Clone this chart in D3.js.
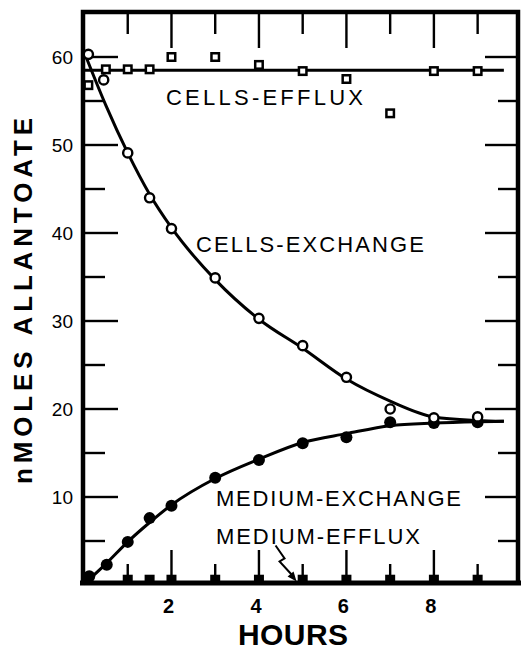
<!DOCTYPE html>
<html>
<head>
<meta charset="utf-8">
<script src="https://cdn.jsdelivr.net/npm/d3@7"></script>
<style>
  html, body { margin: 0; padding: 0; background: #fff; }
  svg { display: block; }
  text { font-family: "Liberation Sans", Arial, sans-serif; fill: #000; }
</style>
</head>
<body>
<div id="chart"></div>
<script>
// Allantoate in cells and medium over time (nmoles)
const xTicks = [2, 4, 6, 8];
const yTicks = [10, 20, 30, 40, 50, 60];
const yMinorTicks = [5, 10, 15, 20, 25, 30, 35, 40, 45, 50, 55, 60];
const xMinorTicks = [1, 2, 3, 4, 5, 6, 7, 8, 9];

// Cells, efflux (open squares)
const cellsEffluxHours = [0.1, 0.5, 1, 1.5, 2, 3, 4, 5, 6, 7, 8, 9];
const cellsEffluxValues = [56.8, 58.6, 58.6, 58.6, 60.0, 60.0, 59.1, 58.4, 57.5, 53.6, 58.4, 58.4];

// Cells, exchange (open circles)
const cellsExchangeHours = [0.1, 0.45, 1, 1.5, 2, 3, 4, 5, 6, 7, 8, 9];
const cellsExchangeValues = [60.3, 57.4, 49.1, 44.0, 40.5, 34.9, 30.3, 27.2, 23.6, 20.0, 19.0, 19.1];

// Medium, exchange (filled circles)
const mediumExchangeHours = [0.12, 0.52, 1, 1.5, 2, 3, 4, 5, 6, 7, 8, 9];
const mediumExchangeValues = [1.0, 2.3, 4.9, 7.6, 9.0, 12.2, 14.2, 16.1, 16.8, 18.5, 18.4, 18.5];

// Medium, efflux (filled squares)
const mediumEffluxHours = [0.1, 1, 1.5, 2, 3, 4, 5, 6, 7, 8, 9];
const mediumEffluxValues = [0.6, 0.6, 0.6, 0.6, 0.6, 0.6, 0.6, 0.6, 0.6, 0.6, 0.6];

// Smooth fitted curves
const fitHours = [0, 0.5, 1, 1.5, 2, 3, 4, 5, 6, 7, 8, 9, 9.6];
const cellsEffluxFit = [58.5, 58.5, 58.5, 58.5, 58.5, 58.5, 58.5, 58.5, 58.5, 58.5, 58.5, 58.5, 58.5];
const cellsExchangeFit = [60.6, 54.5, 49.1, 44.4, 40.6, 34.7, 30.2, 26.9, 23.4, 20.9, 19.1, 18.7, 18.6];
const mediumExchangeFit = [0.1, 2.4, 4.9, 7.1, 9.1, 12.1, 14.3, 16.2, 17.2, 18.1, 18.4, 18.55, 18.6];
const mediumEffluxFit = [0.2, 0.2, 0.2, 0.2, 0.2, 0.2, 0.2, 0.2, 0.2, 0.2, 0.2, 0.2, 0.2];

const W = 521, H = 655;
const svg = d3.select("#chart").append("svg").attr("width", W).attr("height", H);

const x = d3.scaleLinear().domain([0, 9.9]).range([84, 517]);
const y = d3.scaleLinear().domain([0, 65]).range([585, 13]);

const frameLeft = x(0) - 1, frameRight = x.range()[1] + 1;
const frameTop = y(65) - 1, frameBottom = y(0) - 2;

// Frame
const framePath = d3.path();
framePath.moveTo(frameLeft, frameBottom);
framePath.lineTo(frameLeft, frameTop);
framePath.lineTo(frameRight, frameTop);
framePath.lineTo(frameRight, frameBottom);
svg.append("path")
  .attr("d", framePath.toString())
  .attr("fill", "none").attr("stroke", "#000")
  .attr("stroke-width", 4.5).attr("stroke-linejoin", "miter");
svg.append("line")
  .attr("x1", frameLeft - 3).attr("x2", W).attr("y1", frameBottom).attr("y2", frameBottom)
  .attr("stroke", "#000").attr("stroke-width", 5);

// Fitted curves
const lineGen = d3.line()
  .x(d => x(d[0])).y(d => y(d[1]))
  .curve(d3.curveMonotoneX);
[cellsEffluxFit, cellsExchangeFit, mediumExchangeFit, mediumEffluxFit].forEach(vals => {
  svg.append("path")
    .datum(fitHours.map((h, i) => [h, vals[i]]))
    .attr("d", lineGen)
    .attr("fill", "none")
    .attr("stroke", "#000")
    .attr("stroke-width", 3);
});

// Inward tick marks on all four sides (solid bars)
const tw = 2.4;
const yMajor = v => v % 10 === 0;
const xMajor = h => h % 2 === 0;
const tickBars = [];
yMinorTicks.forEach(v => {
  const lenL = yMajor(v) ? 35 : 22, lenR = yMajor(v) ? 33 : 20;
  tickBars.push({ x: frameLeft, y: y(v) - tw / 2, w: lenL, h: tw });
  tickBars.push({ x: frameRight - lenR, y: y(v) - tw / 2, w: lenR, h: tw });
});
xMinorTicks.forEach(hr => {
  const lenT = xMajor(hr) ? 36 : 22, lenB = xMajor(hr) ? 33 : 19;
  tickBars.push({ x: x(hr) - tw / 2, y: frameTop, w: tw, h: lenT });
  tickBars.push({ x: x(hr) - tw / 2, y: frameBottom - lenB, w: tw, h: lenB });
});
svg.append("g").selectAll("rect").data(tickBars).join("rect")
  .attr("x", d => d.x).attr("y", d => d.y)
  .attr("width", d => d.w).attr("height", d => d.h)
  .attr("fill", "#000");

// Symbols
const sq = 7.5;
svg.append("g").selectAll("rect")
  .data(cellsEffluxHours.map((h, i) => [h, cellsEffluxValues[i]]))
  .join("rect")
  .attr("x", d => x(d[0]) - sq / 2).attr("y", d => y(d[1]) - sq / 2)
  .attr("width", sq).attr("height", sq)
  .attr("fill", "#fff").attr("stroke", "#000").attr("stroke-width", 2.5);

svg.append("g").selectAll("rect")
  .data(mediumEffluxHours.map((h, i) => [h, mediumEffluxValues[i]]))
  .join("rect")
  .attr("x", d => x(d[0]) - 5).attr("y", d => y(d[1]) - 5)
  .attr("width", 10).attr("height", 10)
  .attr("fill", "#000");

svg.append("g").selectAll("circle")
  .data(mediumExchangeHours.map((h, i) => [h, mediumExchangeValues[i]]))
  .join("circle")
  .attr("cx", d => x(d[0])).attr("cy", d => y(d[1])).attr("r", 6)
  .attr("fill", "#000");

svg.append("g").selectAll("circle")
  .data(cellsExchangeHours.map((h, i) => [h, cellsExchangeValues[i]]))
  .join("circle")
  .attr("cx", d => x(d[0])).attr("cy", d => y(d[1])).attr("r", 4.6)
  .attr("fill", "#fff").attr("stroke", "#000").attr("stroke-width", 2.4);

// Axis labels
svg.append("g").selectAll("text").data(yTicks).join("text")
  .attr("x", 73).attr("y", d => y(d) + 7)
  .attr("text-anchor", "end")
  .style("font-size", "19px")
  .text(d => d);

svg.append("g").selectAll("text").data(xTicks).join("text")
  .attr("x", d => x(d) - 3).attr("y", 613)
  .attr("text-anchor", "middle")
  .style("font-size", "20px").style("font-weight", "bold")
  .text(d => d);

svg.append("text")
  .attr("x", 293).attr("y", 645)
  .attr("text-anchor", "middle")
  .style("font-size", "30px").style("font-weight", "bold")
  .attr("textLength", 110).attr("lengthAdjust", "spacing")
  .text("HOURS");

svg.append("text")
  .attr("transform", "translate(32,301) rotate(-90)")
  .attr("text-anchor", "middle")
  .style("font-size", "26px").style("font-weight", "bold")
  .attr("textLength", 366).attr("lengthAdjust", "spacing")
  .text("nMOLES  ALLANTOATE");

// Series labels
const labels = [
  { text: "CELLS-EFFLUX", x: 166, y: 105, len: 197 },
  { text: "CELLS-EXCHANGE", x: 196, y: 252, len: 228 },
  { text: "MEDIUM-EXCHANGE", x: 216, y: 506, len: 245 },
  { text: "MEDIUM-EFFLUX", x: 216, y: 544, len: 204 }
];
svg.append("g").selectAll("text").data(labels).join("text")
  .attr("x", d => d.x).attr("y", d => d.y)
  .style("font-size", "22px")
  .attr("textLength", d => d.len).attr("lengthAdjust", "spacing")
  .text(d => d.text);

// Zig-zag pointer to the medium-efflux line
const tipX = x(4.86), tipY = y(0.4);
svg.append("path")
  .attr("d", `M${tipX - 21},${tipY - 36} L${tipX - 12},${tipY - 23} L${tipX - 17},${tipY - 20} L${tipX - 5},${tipY - 7}`)
  .attr("fill", "none").attr("stroke", "#000").attr("stroke-width", 2);
svg.append("path")
  .attr("d", `M${tipX},${tipY} L${tipX - 9},${tipY - 5} L${tipX - 3},${tipY - 10} Z`)
  .attr("fill", "#000");
</script>
</body>
</html>
